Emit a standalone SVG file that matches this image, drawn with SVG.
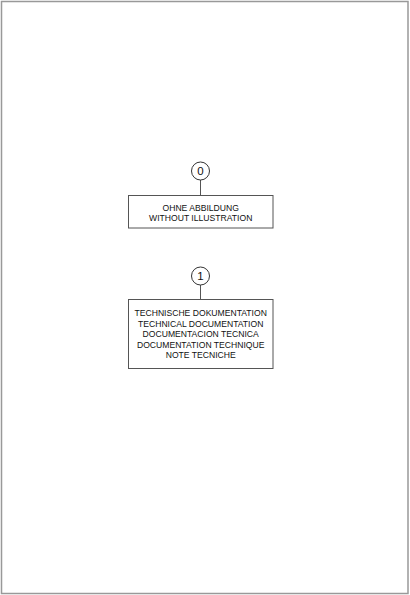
<svg xmlns="http://www.w3.org/2000/svg" width="410" height="595" viewBox="0 0 410 595">
<style>
.frame{fill:none;stroke:#999;stroke-width:1.5}
.box{fill:#fff;stroke:#555;stroke-width:1}
.ball{fill:#fff;stroke:#333;stroke-width:1}
.lead{stroke:#555;stroke-width:1;fill:none}
.t{font-family:"Liberation Sans",Arial,sans-serif;font-size:8.6px;fill:#111;text-anchor:middle}
.n{font-family:"Liberation Sans",Arial,sans-serif;font-size:11.5px;fill:#111;text-anchor:middle}
</style>
<rect width="410" height="595" fill="#fff"/>
<rect class="frame" x="1.5" y="1.5" width="406.5" height="592"/>
<g id="connectors">
<line class="lead" x1="200.5" y1="180" x2="200.5" y2="195.5"/>
<line class="lead" x1="200.5" y1="285" x2="200.5" y2="299.5"/>
</g>
<g id="node0">
<circle class="ball" cx="200.5" cy="171" r="9"/>
<text class="n" x="200.5" y="175.2">0</text>
<rect class="box" x="128.5" y="195.5" width="144.5" height="32.5"/>
<text class="t" x="200.7" y="211.3">OHNE ABBILDUNG</text>
<text class="t" x="200.7" y="221.3">WITHOUT ILLUSTRATION</text>
</g>
<g id="node1">
<circle class="ball" cx="200.5" cy="276" r="9"/>
<text class="n" x="200.5" y="280.2">1</text>
<rect class="box" x="128.5" y="299.5" width="144.5" height="69"/>
<text class="t" x="200.7" y="316.3">TECHNISCHE DOKUMENTATION</text>
<text class="t" x="200.7" y="326.7">TECHNICAL DOCUMENTATION</text>
<text class="t" x="200.7" y="337.1">DOCUMENTACION TECNICA</text>
<text class="t" x="200.7" y="347.5">DOCUMENTATION TECHNIQUE</text>
<text class="t" x="200.7" y="357.9">NOTE TECNICHE</text>
</g>
</svg>
